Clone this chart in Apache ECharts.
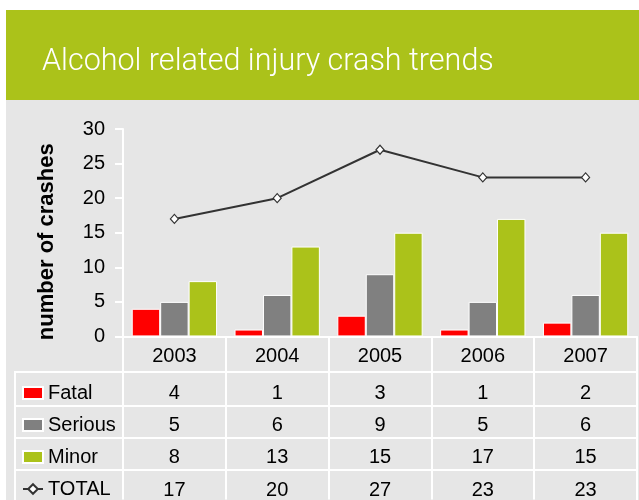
<!DOCTYPE html>
<html>
<head>
<meta charset="utf-8">
<script src="https://cdn.jsdelivr.net/npm/echarts@6/dist/echarts.min.js"></script>
<style>
  html, body { margin: 0; padding: 0; background: #fff; }
  #chart { width: 639px; height: 500px; }
</style>
</head>
<body>
<div id="chart"></div>
<script>
// data
const years = ['2003', '2004', '2005', '2006', '2007'];
const fatal = [4, 1, 3, 1, 2];
const serious = [5, 6, 9, 5, 6];
const minor = [8, 13, 15, 17, 15];
const total = [17, 20, 27, 23, 23];
const yTicks = [0, 5, 10, 15, 20, 25, 30];
const rowNames = ['Fatal', 'Serious', 'Minor', 'TOTAL'];

const GREEN = '#abc21a';
const BG = '#e6e6e6';
const FONT = 'Liberation Sans, Arial, sans-serif';

const chart = echarts.init(document.getElementById('chart'));

// label under each year: year + the four row values (the data table)
const tableLabel = (val) => {
  const i = years.indexOf(val);
  return '{y|' + val + '}\n{v|' + fatal[i] + '}\n{v|' + serious[i] + '}\n{v|' + minor[i] + '}\n{v|' + total[i] + '}';
};

// table grid lines
const hLine = (y) => ({
  type: 'line', shape: { x1: 15, y1: y, x2: 637, y2: y },
  style: { stroke: '#fff', lineWidth: 2 }, z: 5
});

// one legend per table row so each sits in its own row
const legendTops = [383, 415, 447, 479];
const legends = rowNames.map((name, i) => ({
  orient: 'vertical',
  left: 22, top: legendTops[i],
  padding: 0,
  itemWidth: 20, itemHeight: 12,
  data: [name === 'TOTAL' ? name : { name: name, icon: 'rect' }],
  textStyle: { fontSize: 20, color: '#000', fontFamily: FONT }
}));

const option = {
  animation: false,
  backgroundColor: '#fff',
  graphic: [
    { type: 'rect', shape: { x: 6, y: 10, width: 633, height: 90 }, style: { fill: GREEN }, z: -10 },
    { type: 'rect', shape: { x: 6, y: 100, width: 633, height: 400 }, style: { fill: BG }, z: -10 },
    hLine(372), hLine(406), hLine(438), hLine(470),
    { type: 'line', shape: { x1: 15, y1: 371, x2: 15, y2: 500 }, style: { stroke: '#fff', lineWidth: 2 }, z: 5 },
    { type: 'line', shape: { x1: 637, y1: 337, x2: 637, y2: 500 }, style: { stroke: '#fff', lineWidth: 2 }, z: 5 }
  ],
  title: {
    text: 'Alcohol related injury crash trends',
    left: 37, top: 42,
    textStyle: {
      color: '#fff', fontSize: 30.5, fontWeight: 300,
      fontFamily: 'Roboto, sans-serif'
    }
  },
  legend: legends,
  grid: { left: 123, right: 2, top: 129, bottom: 163 },
  xAxis: {
    type: 'category',
    data: years,
    axisLine: { show: true, lineStyle: { color: '#fff', width: 2 } },
    axisTick: { show: true, length: 163, lineStyle: { color: '#fff', width: 2 } },
    axisLabel: {
      margin: -1,
      formatter: tableLabel,
      rich: {
        y: { fontSize: 20, lineHeight: 41.5, color: '#000', fontFamily: FONT },
        v: { fontSize: 20, lineHeight: 32.3, color: '#000', fontFamily: FONT }
      }
    }
  },
  yAxis: {
    type: 'value',
    min: yTicks[0], max: yTicks[yTicks.length - 1], interval: 5,
    name: 'number of crashes',
    nameLocation: 'middle',
    nameGap: 65,
    nameTextStyle: {
      fontSize: 22, fontWeight: 'bold', color: '#000', fontFamily: FONT,
      padding: [0, 18, 0, 0]
    },
    axisLine: { show: true, lineStyle: { color: '#fff', width: 2 } },
    axisTick: { show: true, length: 8, lineStyle: { color: '#fff', width: 2 } },
    axisLabel: { fontSize: 20, color: '#000', margin: 18, fontFamily: FONT },
    splitLine: { show: false }
  },
  series: [
    {
      name: 'Fatal', type: 'bar', data: fatal,
      barGap: '0%', barCategoryGap: '17%',
      itemStyle: { color: '#ff0000', borderColor: '#fff', borderWidth: 1 }
    },
    {
      name: 'Serious', type: 'bar', data: serious,
      itemStyle: { color: '#808080', borderColor: '#fff', borderWidth: 1 }
    },
    {
      name: 'Minor', type: 'bar', data: minor,
      itemStyle: { color: GREEN, borderColor: '#fff', borderWidth: 1 }
    },
    {
      name: 'TOTAL', type: 'line', data: total,
      symbol: 'diamond', symbolSize: [8, 9],
      lineStyle: { color: '#333', width: 2 },
      itemStyle: { color: '#fff', borderColor: '#333', borderWidth: 1.2 },
      z: 10
    }
  ]
};
chart.setOption(option);
</script>
</body>
</html>
